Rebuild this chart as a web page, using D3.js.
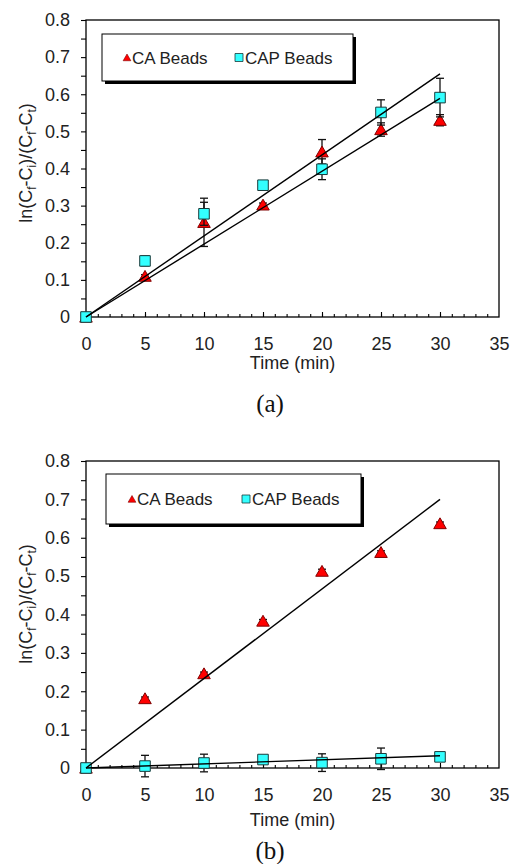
<!DOCTYPE html>
<html>
<head>
<meta charset="utf-8">
<script src="https://cdn.jsdelivr.net/npm/d3@7"></script>
<style>
  html, body { margin: 0; padding: 0; background: #fff; }
  svg { display: block; }
</style>
</head>
<body>
<svg id="chart" width="511" height="864"></svg>
<script>
// ---------- data ----------
const times = [0, 5, 10, 15, 20, 25, 30];
const seriesNames = ["CA Beads", "CAP Beads"];
const xTicks = [0, 5, 10, 15, 20, 25, 30, 35];
const yTicks = [0, 0.1, 0.2, 0.3, 0.4, 0.5, 0.6, 0.7, 0.8];
const panelLabels = ["(a)", "(b)"];

// panel (a)
const caA     = [0, 0.110, 0.255, 0.302, 0.445, 0.505, 0.530];
const caAErr  = [0, 0.004, 0.065, 0.005, 0.033, 0.018, 0.015];
const capA    = [0, 0.151, 0.278, 0.355, 0.398, 0.551, 0.591];
const capAErr = [0, 0.013, 0.031, 0.010, 0.028, 0.034, 0.052];
const trendA  = [0.589, 0.655];   // fitted value at t = 30 min (CA, CAP), lines start at origin

// panel (b)
const caB     = [0, 0.181, 0.246, 0.383, 0.513, 0.562, 0.637];
const caBErr  = [0, 0.004, 0.004, 0.004, 0.005, 0.004, 0.004];
const capB    = [0, 0.005, 0.013, 0.022, 0.014, 0.024, 0.029];
const capBErr = [0, 0.028, 0.023, 0.004, 0.023, 0.028, 0.004];
const trendB  = [0.700, 0.032];

// ---------- drawing ----------
const svg = d3.select("#chart");
const font = "Arial, 'Liberation Sans', Helvetica, sans-serif";
const red = "#ff0000", cyan = "#33ffff";

function drawPanel(p) {
  const g = svg.append("g");
  const x = d3.scaleLinear().domain([0, 35]).range([86, 499]);
  const y = d3.scaleLinear().domain([0, 0.8]).range([p.bottom, p.top]);

  // frame
  g.append("rect")
    .attr("x", x(0)).attr("y", y(0.8))
    .attr("width", x(35) - x(0)).attr("height", y(0) - y(0.8))
    .attr("fill", "none").attr("stroke", "#000").attr("stroke-width", 1.3);

  // x axis: minor ticks inward every 1, major every 5
  const xAxisMinor = d3.axisTop(x).tickValues(d3.range(1, 35)).tickSize(3).tickFormat("");
  g.append("g").attr("transform", `translate(0,${y(0)})`).call(xAxisMinor)
    .call(s => s.select(".domain").remove())
    .selectAll("line").attr("stroke", "#000").attr("stroke-width", 1.1);
  const xAxisMajor = d3.axisTop(x).tickValues(xTicks.slice(1, -1)).tickSize(5).tickFormat("");
  g.append("g").attr("transform", `translate(0,${y(0)})`).call(xAxisMajor)
    .call(s => s.select(".domain").remove())
    .selectAll("line").attr("stroke", "#000").attr("stroke-width", 1.1);
  // x labels
  const xLab = d3.axisBottom(x).tickValues(xTicks).tickSize(0).tickPadding(0).tickFormat(d3.format("d"));
  g.append("g").attr("transform", `translate(0,${y(0) + 20})`).call(xLab)
    .call(s => s.select(".domain").remove())
    .selectAll("text").attr("font-family", font).attr("font-size", 18).attr("fill", "#222");

  // y axis: ticks outward every 0.05
  const yAxisTicks = d3.axisLeft(y).tickValues(d3.range(0, 0.801, 0.05)).tickSize(5).tickFormat("");
  g.append("g").attr("transform", `translate(${x(0)},0)`).call(yAxisTicks)
    .call(s => s.select(".domain").remove())
    .selectAll("line").attr("stroke", "#000").attr("stroke-width", 1.1);
  const yLab = d3.axisLeft(y).tickValues(yTicks).tickSize(0).tickPadding(16)
    .tickFormat(d => d === 0 ? "0" : d3.format(".1f")(d));
  g.append("g").attr("transform", `translate(${x(0)},0)`).call(yLab)
    .call(s => s.select(".domain").remove())
    .selectAll("text").attr("font-family", font).attr("font-size", 18).attr("fill", "#222");

  // axis titles
  g.append("text").attr("x", (x(0) + x(35)) / 2).attr("y", p.xTitleY)
    .attr("text-anchor", "middle").attr("font-family", font).attr("font-size", 18).attr("fill", "#222")
    .text("Time (min)");
  const yt = g.append("text")
    .attr("transform", `translate(32,${p.yTitleCenter}) rotate(-90)`)
    .attr("text-anchor", "middle").attr("font-family", font).attr("font-size", 18).attr("fill", "#222");
  const parts = [["ln(C", 0], ["f", 1], ["-C", 0], ["i", 1], [")/(C", 0], ["f", 1], ["-C", 0], ["t", 1], [")", 0]];
  parts.forEach(([t, sub], i) => {
    const ts = yt.append("tspan").text(t);
    if (sub) ts.attr("font-size", 12).attr("dy", 4);
    else if (i > 0) ts.attr("dy", -4);
  });

  // panel label
  g.append("text").attr("x", 270).attr("y", p.labelY).attr("text-anchor", "middle")
    .attr("font-family", "'Liberation Serif', 'Times New Roman', serif").attr("font-size", 25).attr("fill", "#111")
    .text(p.label);

  const series = [
    { name: seriesNames[0], vals: p.ca, err: p.caErr, trend: p.trend[0], type: "tri" },
    { name: seriesNames[1], vals: p.cap, err: p.capErr, trend: p.trend[1], type: "sq" }
  ];
  const triSym = d3.symbol(d3.symbolTriangle, 68);
  const sqSym = d3.symbol(d3.symbolSquare, 112);

  series.forEach(s => {
    const pts = times.map((t, i) => ({ t, v: s.vals[i], e: s.err[i] }));
    // error bars
    const eb = g.append("g").attr("stroke", "#111").attr("stroke-width", 1.3);
    pts.filter(d => d.e > 0).forEach(d => {
      const cx = x(d.t);
      eb.append("line").attr("x1", cx).attr("x2", cx).attr("y1", y(d.v - d.e)).attr("y2", y(d.v + d.e));
      [d.v - d.e, d.v + d.e].forEach(v => {
        eb.append("line").attr("x1", cx - 4).attr("x2", cx + 4).attr("y1", y(v)).attr("y2", y(v));
      });
    });
    // markers
    g.append("g").selectAll("path").data(pts).join("path")
      .attr("transform", d => `translate(${x(d.t)},${y(d.v) + (s.type === "tri" ? 1.5 : 0)})`)
      .attr("d", s.type === "tri" ? triSym() : sqSym())
      .attr("fill", s.type === "tri" ? red : cyan)
      .attr("stroke", s.type === "tri" ? "#800000" : "#1a3a3a")
      .attr("stroke-width", 1);
  });

  // trend lines (on top)
  series.forEach(s => {
    g.append("line")
      .attr("x1", x(0)).attr("y1", y(0))
      .attr("x2", x(30)).attr("y2", y(s.trend))
      .attr("stroke", "#000").attr("stroke-width", 1.4);
  });

  // legend
  const L = p.legend;
  g.append("rect").attr("x", L.x + 3).attr("y", L.y + 3).attr("width", L.w).attr("height", L.h).attr("fill", "#000");
  g.append("rect").attr("x", L.x).attr("y", L.y).attr("width", L.w).attr("height", L.h)
    .attr("fill", "#fff").attr("stroke", "#000").attr("stroke-width", 1);
  const ly = L.y + L.h / 2;
  g.append("path").attr("transform", `translate(${L.x + L.triDx},${ly + 1})`)
    .attr("d", d3.symbol(d3.symbolTriangle, 26)()).attr("fill", red).attr("stroke", "#800000").attr("stroke-width", 0.6);
  g.append("text").attr("x", L.x + L.triDx + 5).attr("y", ly).attr("dy", "0.36em")
    .attr("font-family", font).attr("font-size", 17).attr("fill", "#222").text(seriesNames[0]);
  g.append("path").attr("transform", `translate(${L.x + L.sqDx},${ly})`)
    .attr("d", d3.symbol(d3.symbolSquare, 64)()).attr("fill", cyan).attr("stroke", "#1a3a3a").attr("stroke-width", 0.8);
  g.append("text").attr("x", L.x + L.sqDx + 6).attr("y", ly).attr("dy", "0.36em")
    .attr("font-family", font).attr("font-size", 17).attr("fill", "#222").text(seriesNames[1]);
}

drawPanel({
  top: 20, bottom: 317, xTitleY: 369, yTitleCenter: 163, labelY: 412, label: panelLabels[0],
  ca: caA, caErr: caAErr, cap: capA, capErr: capAErr, trend: trendA,
  legend: { x: 102, y: 34, w: 251, h: 47, triDx: 25, sqDx: 137 }
});
drawPanel({
  top: 461, bottom: 768, xTitleY: 826, yTitleCenter: 604, labelY: 859, label: panelLabels[1],
  ca: caB, caErr: caBErr, cap: capB, capErr: capBErr, trend: trendB,
  legend: { x: 106, y: 474, w: 255, h: 50, triDx: 26, sqDx: 140 }
});
</script>
</body>
</html>
